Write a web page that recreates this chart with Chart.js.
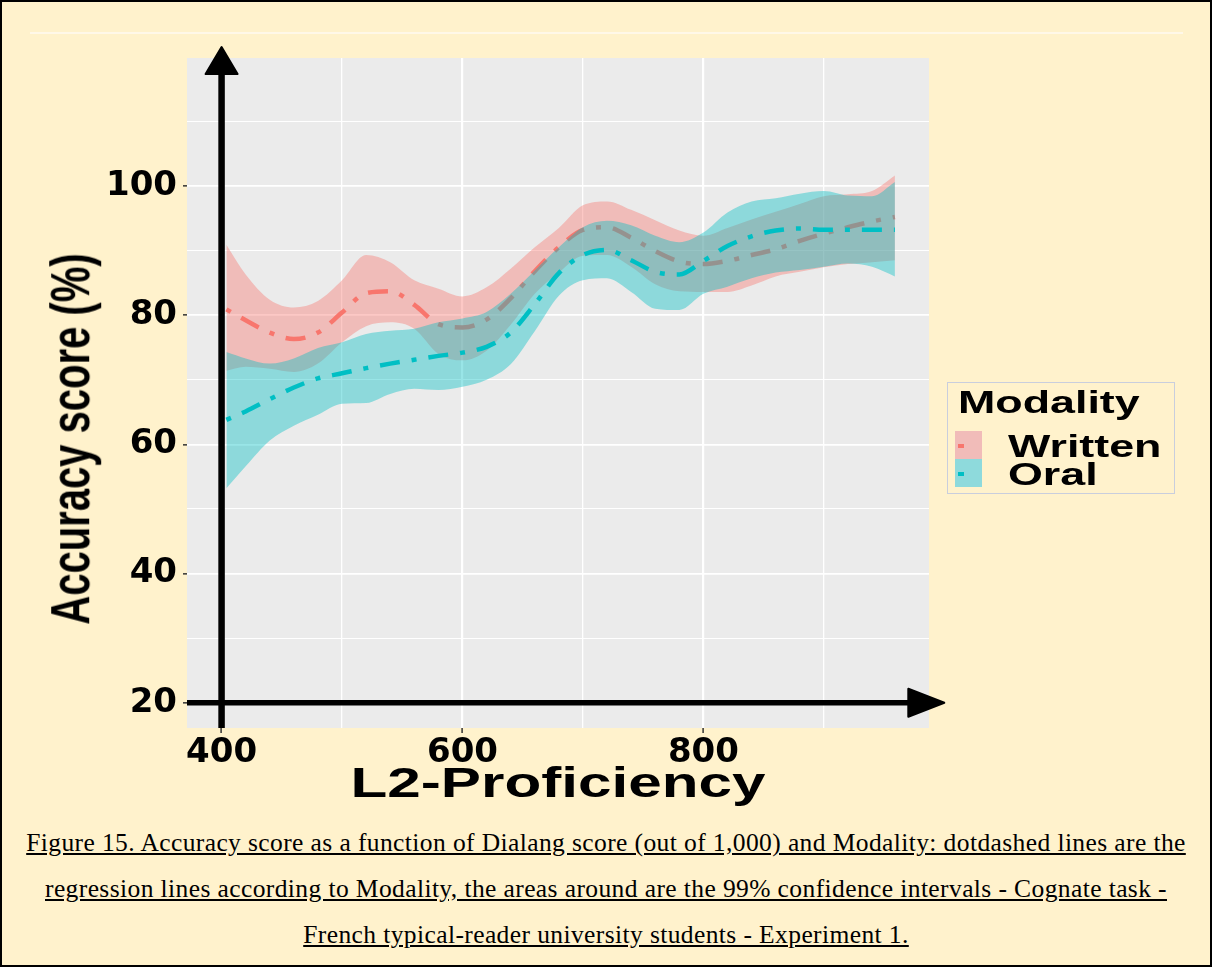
<!DOCTYPE html>
<html>
<head>
<meta charset="utf-8">
<script src="https://cdn.jsdelivr.net/npm/chart.js@4.4.0/dist/chart.umd.min.js"></script>
<style>
  html, body { margin: 0; padding: 0; }
  body { width: 1212px; height: 967px; background: #FFF2CC; position: relative; overflow: hidden; }
  #frame { position: absolute; left: 0; top: 0; width: 1212px; height: 967px; border: 2px solid #000; box-sizing: border-box; z-index: 5; }
  #topline { position: absolute; left: 30px; top: 32px; width: 1153px; height: 2px; background: #FFF8E8; }
  #chartBox { position: absolute; left: 0; top: 0; }
  .ytitle { position: absolute; left: 70px; top: 439px; font: bold 40px "Liberation Sans", Arial, sans-serif; line-height: 1; white-space: nowrap;
            transform: translate(-50%, -50%) rotate(-90deg) scaleY(1.4); }
  .xtitle { position: absolute; left: 558px; top: 782px; font: bold 43px "Liberation Sans", Arial, sans-serif; line-height: 1; white-space: nowrap;
            transform: translate(-50%, -50%) scaleX(1.4); }
  #legend { position: absolute; left: 947px; top: 382px; width: 228px; height: 112px; border: 1px solid #C9CEDD; box-sizing: border-box; }
  .lg { position: absolute; font: bold 32px "Liberation Sans", Arial, sans-serif; line-height: 32px; white-space: nowrap; transform: scaleX(1.4); transform-origin: left center; }
  .key { position: absolute; left: 955px; width: 27px; height: 28px; }
  .keydash { position: absolute; left: 958px; width: 6px; height: 4px; }
  #caption { position: absolute; left: 0; top: 820px; width: 1212px; text-align: center; font: 25.5px "Liberation Serif", "Times New Roman", serif;
             letter-spacing: 0.4px; line-height: 46px; text-decoration: underline; color: #000; }
</style>
</head>
<body>
<div id="frame"></div>
<div id="topline"></div>
<div id="chartBox"><canvas id="grafico" width="1212" height="800"></canvas></div>
<div class="ytitle">Accuracy score (%)</div>
<div class="xtitle">L2-Proficiency</div>

<div id="legend"></div>
<div class="lg" style="left:958px; top:386px;">Modality</div>
<div class="key" style="top:431px; background:#F1BCB9;"></div>
<div class="key" style="top:459px; background:#8EDADC;"></div>
<div class="keydash" style="top:444px; background:#F8766D;"></div>
<div class="keydash" style="top:472px; background:#00BFC4;"></div>
<div class="lg" style="left:1008px; top:430px;">Written</div>
<div class="lg" style="left:1008px; top:458px;">Oral</div>

<div id="caption">Figure 15. Accuracy score as a function of Dialang score (out of 1,000) and Modality: dotdashed lines are the<br>regression lines according to Modality, the areas around are the 99% confidence intervals - Cognate task -<br>French typical-reader university students - Experiment 1.</div>

<script>
// Dialang score (x) where the smooth curves were read
const dialang = [404, 420, 440, 460, 480, 500, 520, 540, 560, 580, 600, 620, 640, 660, 680, 700, 720, 740, 760, 780, 800, 820, 840, 860, 880, 900, 920, 940, 959];

// Written modality: fitted line and 99% CI
const writtenFit  = [80.9, 79.2, 77.3, 76.3, 77.3, 80.4, 83.4, 83.7, 81.6, 78.6, 78.1, 79.3, 82.6, 86.8, 90.5, 93.2, 93.6, 92.0, 89.9, 88.3, 87.9, 88.4, 89.3, 90.2, 91.5, 92.6, 93.6, 94.5, 95.2];
const writtenLow  = [71.4, 72.0, 71.7, 71.2, 72.5, 75.8, 78.3, 78.9, 77.9, 74.0, 73.0, 74.5, 78.5, 83.3, 86.6, 89.2, 89.3, 87.5, 84.8, 83.7, 83.6, 83.6, 84.6, 86.0, 86.7, 87.4, 87.9, 88.2, 88.5];
const writtenHigh = [90.9, 86.3, 82.4, 81.2, 82.2, 85.4, 89.3, 88.2, 85.4, 84.1, 82.9, 84.3, 87.2, 90.5, 93.5, 97.0, 97.6, 96.3, 94.7, 93.1, 92.3, 93.5, 94.8, 96.0, 97.2, 98.4, 98.7, 99.2, 101.6];

// Oral modality: fitted line and 99% CI
const oralFit  = [63.8, 65.1, 67.0, 68.8, 70.2, 71.0, 71.8, 72.5, 73.1, 73.7, 74.2, 75.1, 77.3, 81.7, 86.5, 89.3, 90.1, 88.5, 86.7, 86.3, 88.4, 90.7, 92.2, 93.1, 93.4, 93.2, 93.2, 93.2, 93.2];
const oralLow  = [53.2, 56.6, 60.6, 62.9, 64.6, 66.3, 66.4, 67.8, 68.6, 68.4, 68.9, 70.0, 72.4, 77.5, 83.0, 85.4, 85.7, 83.6, 81.0, 80.8, 83.3, 84.4, 85.7, 86.6, 87.0, 87.5, 88.0, 87.5, 86.0];
const oralHigh = [74.3, 73.3, 72.5, 73.3, 74.9, 75.8, 77.1, 77.6, 77.9, 78.9, 79.5, 80.5, 83.3, 86.9, 90.5, 93.6, 94.6, 93.9, 92.3, 91.3, 92.8, 95.9, 97.6, 98.1, 98.8, 99.2, 98.5, 98.4, 100.6];

// axes
const xTicks = [400, 500, 600, 700, 800, 900];
const xLabels = [400, 600, 800];
const yTicks = [20, 30, 40, 50, 60, 70, 80, 90, 100, 110];
const yLabels = [20, 40, 60, 80, 100];
const xRange = [371.3, 987.3];
const yRange = [16.1, 119.8];
// arrows drawn over the panel: origin and tips (data units)
const arrowOrigin = [400, 20];
const arrowTips = [1000, 121.5];

const pts = arr => dialang.map((x, i) => ({ x: x, y: arr[i] }));

const panelBg = {
    id: 'panelBg',
    beforeDraw(chart) {
        const a = chart.chartArea;
        const ctx = chart.ctx;
        ctx.save();
        ctx.fillStyle = '#EBEBEB';
        ctx.fillRect(a.left, a.top, a.right - a.left, a.bottom - a.top);
        ctx.restore();
    }
};

const axisArrows = {
    id: 'axisArrows',
    afterDraw(chart) {
        const ctx = chart.ctx;
        const a = chart.chartArea;
        const x = chart.scales.x, y = chart.scales.y;
        const x0 = x.getPixelForValue(arrowOrigin[0]);
        const y0 = y.getPixelForValue(arrowOrigin[1]);
        const xTip = x.getPixelForValue(arrowTips[0]);
        const yTip = y.getPixelForValue(arrowTips[1]);
        ctx.save();
        ctx.strokeStyle = '#000';
        ctx.fillStyle = '#000';
        ctx.lineJoin = 'round';
        // vertical
        ctx.lineWidth = 6.5;
        ctx.beginPath();
        ctx.moveTo(x0, a.bottom);
        ctx.lineTo(x0, yTip + 24);
        ctx.stroke();
        ctx.lineWidth = 2;
        ctx.beginPath();
        ctx.moveTo(x0, yTip);
        ctx.lineTo(x0 - 16, yTip + 27);
        ctx.lineTo(x0 + 16, yTip + 27);
        ctx.closePath();
        ctx.fill();
        ctx.stroke();
        // horizontal
        ctx.lineWidth = 5.5;
        ctx.beginPath();
        ctx.moveTo(a.left, y0);
        ctx.lineTo(xTip - 32, y0);
        ctx.stroke();
        ctx.lineWidth = 2;
        ctx.beginPath();
        ctx.moveTo(xTip, y0);
        ctx.lineTo(xTip - 36, y0 - 14);
        ctx.lineTo(xTip - 36, y0 + 14);
        ctx.closePath();
        ctx.fill();
        ctx.stroke();
        ctx.restore();
    }
};

const dotdash = [5, 12, 20, 12];

const ctx = document.getElementById('grafico');
const myChart = new Chart(ctx, {
    type: 'line',
    data: {
        datasets: [
            { label: 'Written low', data: pts(writtenLow), borderColor: 'transparent', borderWidth: 1, pointRadius: 0, fill: false, order: 6 },
            { label: 'Written', data: pts(writtenHigh), borderColor: 'transparent', borderWidth: 1, pointRadius: 0,
              fill: '-1', backgroundColor: 'rgba(248, 118, 109, 0.4)', order: 5 },
            { label: 'Written fit', data: pts(writtenFit), borderColor: '#F8766D', borderWidth: 4.5, borderDash: dotdash,
              pointRadius: 0, fill: false, order: 4 },
            { label: 'Oral low', data: pts(oralLow), borderColor: 'transparent', borderWidth: 1, pointRadius: 0, fill: false, order: 3 },
            { label: 'Oral', data: pts(oralHigh), borderColor: 'transparent', borderWidth: 1, pointRadius: 0,
              fill: '-1', backgroundColor: 'rgba(0, 191, 196, 0.4)', order: 2 },
            { label: 'Oral fit', data: pts(oralFit), borderColor: '#00BFC4', borderWidth: 4.5, borderDash: dotdash,
              pointRadius: 0, fill: false, order: 1 }
        ]
    },
    options: {
        responsive: false,
        animation: false,
        cubicInterpolationMode: 'monotone',
        layout: { padding: { left: 0, top: 58, right: 283, bottom: 0 } },
        plugins: { legend: { display: false }, tooltip: { enabled: false } },
        scales: {
            x: {
                type: 'linear',
                min: xRange[0],
                max: xRange[1],
                afterBuildTicks: s => { s.ticks = xTicks.map(v => ({ value: v })); },
                afterFit: s => { s.height = 72; },
                border: { display: false },
                grid: {
                    color: '#FFFFFF',
                    lineWidth: c => xLabels.includes(c.tick.value) ? 2.2 : 1.3,
                    tickColor: c => xLabels.includes(c.tick.value) ? '#333333' : 'rgba(0,0,0,0)',
                    tickLength: 5,
                    tickWidth: 1.5
                },
                ticks: {
                    autoSkip: false,
                    maxRotation: 0,
                    padding: 0,
                    color: '#000',
                    font: { family: 'DejaVu Sans', weight: 'bold', size: 34 },
                    callback: v => xLabels.includes(v) ? String(v) : ''
                }
            },
            y: {
                min: yRange[0],
                max: yRange[1],
                afterBuildTicks: s => { s.ticks = yTicks.map(v => ({ value: v })); },
                afterFit: s => { s.width = 187; },
                border: { display: false },
                grid: {
                    color: '#FFFFFF',
                    lineWidth: c => yLabels.includes(c.tick.value) ? 1.7 : 1,
                    tickColor: c => yLabels.includes(c.tick.value) ? '#333333' : 'rgba(0,0,0,0)',
                    tickLength: 4,
                    tickWidth: 1.5
                },
                ticks: {
                    padding: 6,
                    color: '#000',
                    font: { family: 'DejaVu Sans', weight: 'bold', size: 34 },
                    callback: v => yLabels.includes(v) ? String(v) : ''
                }
            }
        }
    },
    plugins: [panelBg, axisArrows]
});
</script>
</body>
</html>
